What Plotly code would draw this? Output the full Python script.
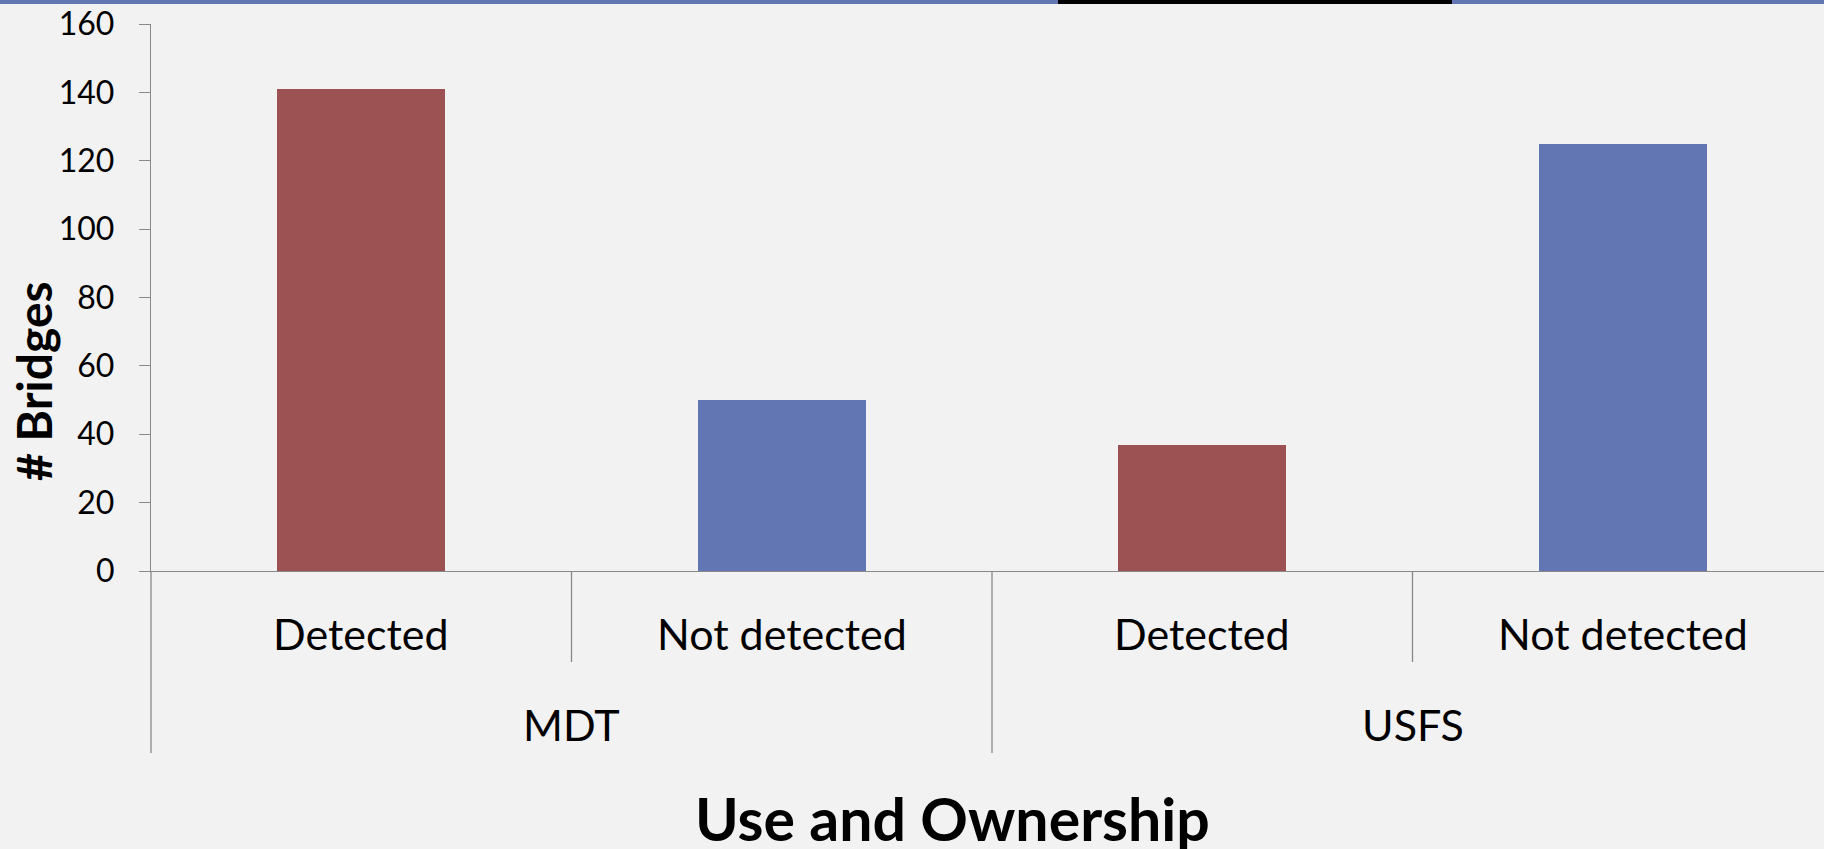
import plotly.graph_objects as go

# Bridge counts by owner and detection outcome
owners = ["MDT", "MDT", "USFS", "USFS"]
status = ["Detected", "Not detected", "Detected", "Not detected"]
bridges = [141, 50, 37, 125]
y_ticks = [0, 20, 40, 60, 80, 100, 120, 140, 160]

status_colors = {"Detected": "#9C5252", "Not detected": "#6176B3"}

FONT = "Lato, Carlito, Calibri, sans-serif"
AXIS_GRAY = "#898989"
BG = "#F2F2F2"

# Figure geometry (pixels)
W, H = 1824, 849
M_L, M_R, M_T, M_B = 151, 0, 24, 278
plot_w = W - M_L - M_R
plot_h = H - M_T - M_B
CAT_PX = 420.5  # width of one category slot


def px_x(px):
    """Pixel column -> paper x."""
    return (px - M_L) / plot_w


def px_y(px):
    """Pixel row -> paper y."""
    return (H - M_B - px) / plot_h


idx = list(range(len(status)))

fig = go.Figure()
fig.add_bar(
    x=idx,
    y=bridges,
    width=0.4,
    marker=dict(color=[status_colors[s] for s in status], line=dict(width=0)),
    hovertemplate="%{y}<extra></extra>",
)

shapes = []
# category dividers below the axis: short within a group, long between groups
for i in range(len(status) + 1):
    group_edge = i == 0 or i == len(status) or owners[i] != owners[i - 1]
    bottom = px_y(753) if group_edge else px_y(662)
    if i == 0:
        shapes.append(dict(type="line", xref="paper", yref="paper", x0=0, x1=0,
                           y0=0, y1=bottom, line=dict(color=AXIS_GRAY, width=1.3)))
    else:
        shapes.append(dict(type="line", xref="x", yref="paper", x0=i - 0.5, x1=i - 0.5,
                           y0=0, y1=bottom, line=dict(color=AXIS_GRAY, width=1.3)))

# slide header band along the top edge
shapes.append(dict(type="rect", xref="paper", yref="paper", x0=px_x(0), x1=px_x(W),
                   y0=px_y(4), y1=px_y(0), line=dict(width=0), fillcolor="#6176B3", layer="above"))
shapes.append(dict(type="rect", xref="paper", yref="paper", x0=px_x(1058), x1=px_x(1452),
                   y0=px_y(4), y1=px_y(0), line=dict(width=0), fillcolor="#000000", layer="above"))

annotations = []
for i, s in enumerate(status):
    annotations.append(dict(x=i, y=px_y(634), xref="x", yref="paper", text=s, showarrow=False,
                            xanchor="center", yanchor="middle",
                            font=dict(family=FONT, size=43, color="#000000")))

seen = []
for o in owners:
    if o not in seen:
        seen.append(o)
for o in seen:
    pos = [i for i, g in enumerate(owners) if g == o]
    annotations.append(dict(x=sum(pos) / len(pos), y=px_y(724), xref="x", yref="paper", text=o,
                            showarrow=False, xanchor="center", yanchor="middle",
                            font=dict(family=FONT, size=43, color="#000000")))

annotations.append(dict(x=px_x(952), y=px_y(818), xref="paper", yref="paper",
                        text="<b>Use and Ownership</b>", showarrow=False,
                        xanchor="center", yanchor="middle",
                        font=dict(family=FONT, size=59, color="#000000")))
annotations.append(dict(x=px_x(34), y=px_y(381), xref="paper", yref="paper",
                        text="<b># Bridges</b>", showarrow=False, textangle=-90,
                        xanchor="center", yanchor="middle",
                        font=dict(family=FONT, size=48, color="#000000")))

fig.update_layout(
    width=W,
    height=H,
    margin=dict(l=M_L, r=M_R, t=M_T, b=M_B, pad=0),
    paper_bgcolor=BG,
    plot_bgcolor=BG,
    showlegend=False,
    bargap=0,
    shapes=shapes,
    annotations=annotations,
    xaxis=dict(
        range=[-0.5, -0.5 + plot_w / CAT_PX],
        showticklabels=False,
        ticks="",
        showgrid=False,
        zeroline=False,
        showline=True,
        linecolor=AXIS_GRAY,
        linewidth=1.3,
        fixedrange=True,
    ),
    yaxis=dict(
        range=[0, 160],
        tickvals=y_ticks,
        ticks="outside",
        ticklen=11,
        tickwidth=1.3,
        tickcolor=AXIS_GRAY,
        showline=True,
        linecolor=AXIS_GRAY,
        linewidth=1.3,
        showgrid=False,
        zeroline=False,
        ticklabelstandoff=18,
        tickfont=dict(family=FONT, size=32, color="#000000"),
        fixedrange=True,
    ),
)

fig.write_html("out.html", config={"displayModeBar": False})
